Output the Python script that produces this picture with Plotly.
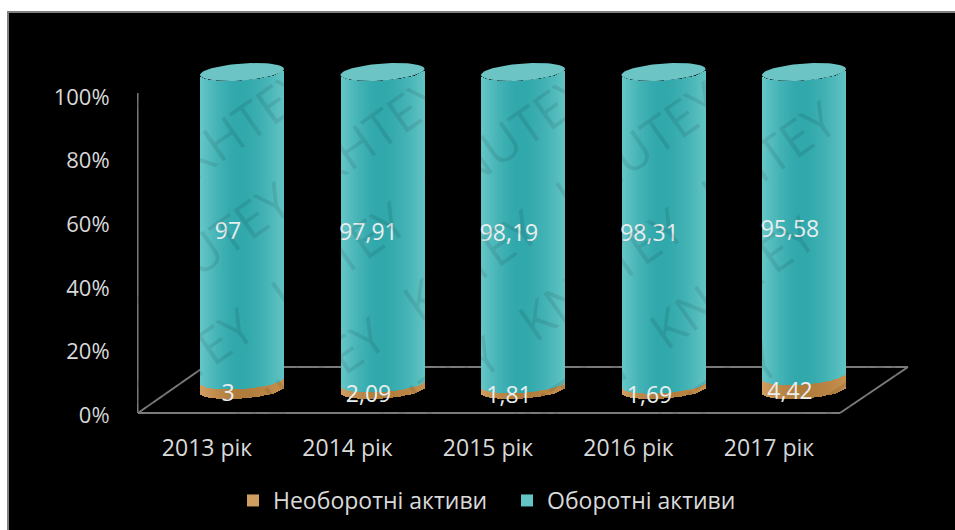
import numpy as np
import plotly.graph_objects as go

# Chart data
years = ["2013 рік", "2014 рік", "2015 рік", "2016 рік", "2017 рік"]
non_current = [3, 2.09, 1.81, 1.69, 4.42]
current = [97, 97.91, 98.19, 98.31, 95.58]
non_current_labels = ["3", "2,09", "1,81", "1,69", "4,42"]
current_labels = ["97", "97,91", "98,19", "98,31", "95,58"]
percent_ticks = [0, 20, 40, 60, 80, 100]
percent_labels = ["0%", "20%", "40%", "60%", "80%", "100%"]

# Page geometry, in pixels
W, H = 955, 530
LEFT, RIGHT, TOP, BOTTOM = 137, 925, 40, 415
PX_PER_CAT = 140.5
PX_PER_PCT = 3.18
FIRST_TICK_PX = 207

# Pseudo-3D cylinder proportions
CYL_SHIFT = 35 / PX_PER_CAT      # cylinders stand behind their category tick
HALF_W = 42 / PX_PER_CAT
STRIPS = 42
FLOOR = 25 / PX_PER_PCT          # lift of the cylinder base above the axis zero
RIM_B = 8.5 / PX_PER_PCT
RIM_TILT = 3 / PX_PER_PCT


def px_x(px):
    return (px - FIRST_TICK_PX) / PX_PER_CAT


def px_y(py):
    return (BOTTOM - py) / PX_PER_PCT


def shade(u, edge, mid, rim):
    # Horizontal sheen across the cylinder: u runs from -1 to 1
    t = min(abs(u + 0.05) / 1.05, 1) ** 1.6
    end = edge if u < 0 else rim
    c = [m + (e - m) * t for m, e in zip(mid, end)]
    return "rgb(%d,%d,%d)" % tuple(c)


strip_u = [(k + 0.5) / STRIPS * 2 - 1 for k in range(STRIPS)]
front = [RIM_TILT * u - RIM_B * np.sqrt(1 - u * u) for u in strip_u]
strip_w = 2 * HALF_W / STRIPS

teal = [shade(u, (112, 204, 204), (48, 168, 172), (100, 196, 196)) for u in strip_u]
brown = [shade(u, (216, 166, 106), (176, 124, 60), (200, 146, 80)) for u in strip_u]


def cylinder_strips(start, length, colors):
    xs, bases, ys, cs = [], [], [], []
    for i in range(len(years)):
        for k, u in enumerate(strip_u):
            xs.append(i + CYL_SHIFT + u * HALF_W)
            bases.append(FLOOR + start[i] + front[k])
            ys.append(length[i])
            cs.append(colors[k])
    return xs, bases, ys, cs


fig = go.Figure()

x1, b1, y1, c1 = cylinder_strips([0] * 5, non_current, brown)
fig.add_bar(x=x1, y=y1, base=b1, width=strip_w, name="Необоротні активи",
            marker=dict(color=c1, line=dict(width=0)), hoverinfo="skip")

x2, b2, y2, c2 = cylinder_strips(non_current, current, teal)
fig.add_bar(x=x2, y=y2, base=b2, width=strip_w, name="Оборотні активи",
            marker=dict(color=c2, line=dict(width=0)), hoverinfo="skip")

# Lighter elliptical caps on top of the stacks
angle = np.linspace(0, 2 * np.pi, 80)
for i in range(len(years)):
    top = FLOOR + non_current[i] + current[i]
    fig.add_scatter(
        x=i + CYL_SHIFT + HALF_W * np.cos(angle),
        y=top + RIM_TILT * np.cos(angle) + RIM_B * np.sin(angle),
        mode="lines", fill="toself", fillcolor="#6cc4c4",
        line=dict(width=0, color="#6cc4c4"), showlegend=False, hoverinfo="skip",
    )

# Value labels
label_x = [i + CYL_SHIFT - 14 / PX_PER_CAT for i in range(len(years))]
fig.add_scatter(
    x=label_x,
    y=[FLOOR + a + b / 2 - 7 / PX_PER_PCT for a, b in zip(non_current, current)],
    text=current_labels, mode="text", textposition="middle center",
    textfont=dict(family="Open Sans", size=23, color="#e9eeee"),
    showlegend=False, hoverinfo="skip",
)
fig.add_scatter(
    x=label_x,
    y=[FLOOR + a / 2 - 10 / PX_PER_PCT for a in non_current],
    text=non_current_labels, mode="text", textposition="middle center",
    textfont=dict(family="Open Sans", size=23, color="#e9eeee"),
    showlegend=False, hoverinfo="skip",
)

# Black card with a grey hairline, then the floor and the value axis
shapes = [
    dict(type="rect", xref="paper", yref="paper", layer="below",
         x0=(8 - LEFT) / (RIGHT - LEFT), x1=(W + 10 - LEFT) / (RIGHT - LEFT),
         y0=(BOTTOM - H - 10) / (BOTTOM - TOP), y1=(BOTTOM - 12) / (BOTTOM - TOP),
         fillcolor="#000000", line=dict(color="#808080", width=2)),
]
floor_corners = [(138, 413), (840, 413), (908, 367), (204, 367), (138, 413)]
for (xa, ya), (xb, yb) in zip(floor_corners, floor_corners[1:]):
    shapes.append(dict(type="line", layer="below", x0=px_x(xa), x1=px_x(xb),
                       y0=px_y(ya), y1=px_y(yb), line=dict(color="#7a7a7a", width=2)))
shapes.append(dict(type="line", layer="below", x0=px_x(137.5), x1=px_x(137.5),
                   y0=px_y(413), y1=px_y(93), line=dict(color="#7a7a7a", width=2)))

# Diagonal repeating KHTEY / KNUTEY stamp, kept to the stamps that fit on the page
annotations = []
ALONG = (np.cos(np.radians(35)), -np.sin(np.radians(35)))
ACROSS = (np.sin(np.radians(35)), np.cos(np.radians(35)))
for row in range(-9, 10):
    for col in range(-9, 10):
        px = 470 + col * 205 * ALONG[0] + row * 82 * ACROSS[0] + (row % 2) * 102 * ALONG[0]
        py = 265 + col * 205 * ALONG[1] + row * 82 * ACROSS[1] + (row % 2) * 102 * ALONG[1]
        if not (95 < px < W - 95 and 75 < py < H - 75):
            continue
        word = "KNUTEY" if (row + col) % 2 else "KHTEY"
        annotations.append(dict(
            x=(px - LEFT) / (RIGHT - LEFT), y=(BOTTOM - py) / (BOTTOM - TOP),
            xref="paper", yref="paper", xanchor="center", yanchor="middle", text=word,
            showarrow=False, textangle=-35,
            font=dict(family="Open Sans", size=50, color="rgba(0,0,0,0.09)"),
        ))

fig.update_layout(
    width=W, height=H, autosize=False,
    margin=dict(l=LEFT, r=W - RIGHT, t=TOP, b=H - BOTTOM, autoexpand=False),
    paper_bgcolor="#ffffff", plot_bgcolor="rgba(0,0,0,0)",
    barmode="overlay", bargap=0,
    shapes=shapes, annotations=annotations,
    xaxis=dict(range=[px_x(LEFT), px_x(RIGHT)], tickvals=list(range(5)), ticktext=years,
               showgrid=False, zeroline=False, showline=False,
               ticks="outside", ticklen=12, tickcolor="rgba(0,0,0,0)",
               tickfont=dict(family="Open Sans", size=23, color="#d9d9d9")),
    yaxis=dict(range=[0, (BOTTOM - TOP) / PX_PER_PCT], tickvals=percent_ticks,
               ticktext=percent_labels, showgrid=False, zeroline=False, showline=False,
               ticks="outside", ticklen=22, tickcolor="rgba(0,0,0,0)",
               tickfont=dict(family="Open Sans", size=22, color="#d9d9d9")),
    legend=dict(orientation="h", x=(233 - LEFT) / (RIGHT - LEFT), xanchor="left",
                y=(BOTTOM - 479) / (BOTTOM - TOP), yanchor="top",
                entrywidth=229, entrywidthmode="pixels",
                bgcolor="rgba(0,0,0,0)", traceorder="normal",
                font=dict(family="Open Sans", size=23, color="#d9d9d9")),
    showlegend=True,
)

fig.write_html("out.html", config={"displayModeBar": False})
